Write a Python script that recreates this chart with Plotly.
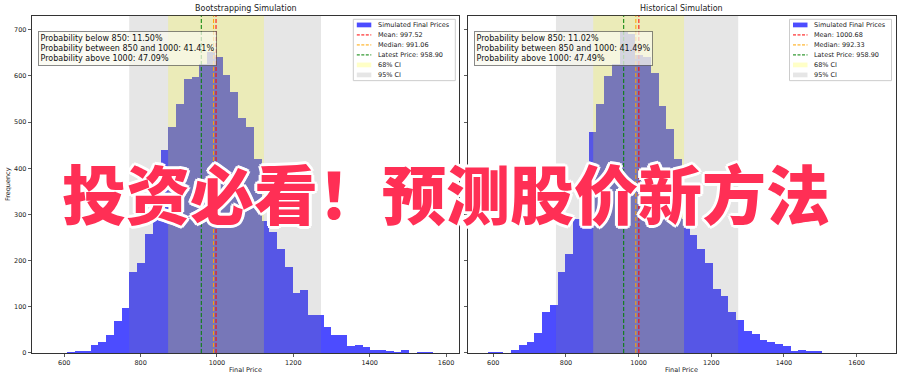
import numpy as np
import plotly.graph_objects as go

# ---------------- data ----------------
boot_bin_lo, boot_bin_hi = 567.0, 1585.0
boot_counts = [1, 0, 2, 4, 4, 17, 23, 38, 70, 97,
               175, 194, 257, 297, 439, 489, 539, 593, 598, 625,
               652, 640, 602, 565, 508, 489, 420, 285, 262, 226,
               187, 130, 136, 83, 83, 57, 39, 38, 16, 18,
               12, 7, 6, 5, 3, 6, 1, 2, 2, 1]

hist_bin_lo, hist_bin_hi = 584.6, 1653.5
hist_counts = [2, 3, 1, 6, 17, 24, 43, 88, 104, 176,
               214, 290, 380, 478, 539, 600, 625, 696, 690, 645,
               640, 607, 534, 486, 421, 290, 255, 226, 195, 139,
               124, 89, 71, 48, 41, 29, 24, 20, 16, 4,
               6, 5, 4, 1, 0, 0, 1, 0, 0, 1]

latest_price = 958.90
boot_mean, boot_median = 997.52, 991.06
hist_mean, hist_median = 1000.68, 992.33
boot_ci68 = [872.0, 1123.0]
boot_ci95 = [770.0, 1272.5]
hist_ci68 = [875.0, 1125.0]
hist_ci95 = [772.5, 1274.0]
boot_probs = [11.50, 41.41, 47.09]
hist_probs = [11.02, 41.49, 47.49]

panel_titles = ["Bootstrapping Simulation", "Historical Simulation"]
x_ticks = [600, 800, 1000, 1200, 1400, 1600]
y_ticks = [0, 100, 200, 300, 400, 500, 600, 700]
headline = "投资必看！预测股价新方法"

# ---------------- styling / layout ----------------
W, H = 900, 383
FONT = "DejaVu Sans"
BAR_COLOR = "rgba(0,0,255,0.7)"
CI68_COLOR = "rgba(255,255,0,0.2)"
CI95_COLOR = "rgba(128,128,128,0.2)"
MEAN_C, MED_C, LAT_C = "#ff0000", "#ffa500", "#008000"
DASH = "4px,2px"


def px(xp):
    return xp / W


def py(yp):
    return 1 - yp / H


panels = [
    dict(xa="x", ya="y", xd=[32.3, 459.3], xr=[516.2, 1634.8],
         lo=boot_bin_lo, hi=boot_bin_hi, counts=boot_counts,
         mean=boot_mean, median=boot_median, ci68=boot_ci68, ci95=boot_ci95,
         probs=boot_probs, title=panel_titles[0]),
    dict(xa="x2", ya="y2", xd=[468.3, 895.5], xr=[531.2, 1707.0],
         lo=hist_bin_lo, hi=hist_bin_hi, counts=hist_counts,
         mean=hist_mean, median=hist_median, ci68=hist_ci68, ci95=hist_ci95,
         probs=hist_probs, title=panel_titles[1]),
]
y_dom_px = [16.0, 356.7]
y_range = [0, 730]

fig = go.Figure()
shapes = []
annotations = []

for k, p in enumerate(panels):
    edges = np.linspace(p["lo"], p["hi"], len(p["counts"]) + 1)
    centers = (edges[:-1] + edges[1:]) / 2
    width = edges[1] - edges[0]
    fig.add_trace(go.Bar(
        x=centers, y=p["counts"], width=width, xaxis=p["xa"], yaxis=p["ya"],
        marker=dict(color=BAR_COLOR, line=dict(width=0)),
        showlegend=False, hoverinfo="x+y"))

    # confidence bands (drawn above bars like matplotlib axvspan)
    for (a, b), col in [(p["ci95"], CI95_COLOR), (p["ci68"], CI68_COLOR)]:
        shapes.append(dict(type="rect", xref=p["xa"], yref=p["ya"] + " domain",
                           x0=a, x1=b, y0=0, y1=1, fillcolor=col,
                           line=dict(width=0), layer="above"))
    # vertical reference lines
    for v, col in [(p["mean"], MEAN_C), (p["median"], MED_C), (latest_price, LAT_C)]:
        shapes.append(dict(type="line", xref=p["xa"], yref=p["ya"] + " domain",
                           x0=v, x1=v, y0=0, y1=1,
                           line=dict(color=col, width=1, dash=DASH), layer="above"))

    # title
    annotations.append(dict(text=p["title"], xref="paper", yref="paper",
                            x=px((p["xd"][0] + p["xd"][1]) / 2), y=py(8.5),
                            xanchor="center", yanchor="middle", showarrow=False,
                            font=dict(family=FONT, size=8, color="#222")))
    # x label
    annotations.append(dict(text="Final Price", xref="paper", yref="paper",
                            x=px((p["xd"][0] + p["xd"][1]) / 2), y=py(374),
                            xanchor="center", yanchor="middle", showarrow=False,
                            font=dict(family=FONT, size=6.5, color="#222")))
    # probability text box
    pr = p["probs"]
    txt = (f"Probability below 850: {pr[0]:.2f}%<br>"
           f"Probability between 850 and 1000: {pr[1]:.2f}%<br>"
           f"Probability above 1000: {pr[2]:.2f}%")
    annotations.append(dict(text=txt, xref="paper", yref="paper",
                            x=px(p["xd"][0] + 5.5), y=py(31), xanchor="left",
                            yanchor="top", align="left", showarrow=False,
                            bgcolor="rgba(250,250,238,0.72)",
                            bordercolor="rgba(60,60,60,0.6)", borderwidth=1,
                            borderpad=1.5,
                            font=dict(family=FONT, size=8, color="#111")))

    # legend (matplotlib-style compact box)
    leg_labels = ["Simulated Final Prices", f"Mean: {p['mean']:.2f}",
                  f"Median: {p['median']:.2f}", f"Latest Price: {latest_price:.2f}",
                  "68% CI", "95% CI"]
    leg_kind = ["patch", "line", "line", "line", "patch", "patch"]
    leg_cols = [BAR_COLOR, MEAN_C, MED_C, LAT_C, "rgba(255,255,0,0.22)",
                "rgba(128,128,128,0.2)"]
    bx1 = p["xd"][1] - 4
    bx0 = bx1 - 102
    by0, by1 = 19.5, 81.5
    shapes.append(dict(type="rect", xref="paper", yref="paper",
                       x0=px(bx0), x1=px(bx1), y0=py(by1), y1=py(by0),
                       fillcolor="rgba(255,255,255,0.8)",
                       line=dict(color="#cccccc", width=1), layer="above"))
    for j, (lab, kind, col) in enumerate(zip(leg_labels, leg_kind, leg_cols)):
        yc = 25.2 + j * 10.1
        hx0, hx1 = bx0 + 3.5, bx0 + 18
        if kind == "patch":
            shapes.append(dict(type="rect", xref="paper", yref="paper",
                               x0=px(hx0), x1=px(hx1), y0=py(yc + 2.4), y1=py(yc - 2.4),
                               fillcolor=col, line=dict(width=0), layer="above"))
        else:
            shapes.append(dict(type="line", xref="paper", yref="paper",
                               x0=px(hx0), x1=px(hx1), y0=py(yc), y1=py(yc),
                               line=dict(color=col, width=1, dash="3px,1.5px"),
                               layer="above"))
        annotations.append(dict(text=lab, xref="paper", yref="paper",
                                x=px(bx0 + 22.5), y=py(yc), xanchor="left",
                                yanchor="middle", showarrow=False,
                                font=dict(family=FONT, size=6.5, color="#222")))

# y label
annotations.append(dict(text="Frequency", xref="paper", yref="paper",
                        x=px(8), y=py(186), textangle=-90, xanchor="center",
                        yanchor="middle", showarrow=False,
                        font=dict(family=FONT, size=6.5, color="#222")))

# headline overlay
outline = ", ".join(f"white {dx}px {dy}px 0" for dx, dy in
                    [(3, 0), (-3, 0), (0, 3), (0, -3), (2, 2), (-2, -2), (2, -2), (-2, 2)])
annotations.append(dict(text=headline, xref="paper", yref="paper",
                        x=px(446), y=py(193), xanchor="center", yanchor="middle",
                        showarrow=False,
                        font=dict(family="Noto Sans CJK SC", size=64, weight=900,
                                  color="#ff2f55", shadow=outline)))

axis_common = dict(showline=True, linecolor="#333", linewidth=1, mirror=True,
                   ticks="outside", ticklen=3.5, tickwidth=0.8, tickcolor="#333",
                   showgrid=False, zeroline=False,
                   tickfont=dict(family=FONT, size=6.5, color="#222"))

fig.update_layout(
    width=W, height=H, margin=dict(l=0, r=0, t=0, b=0),
    paper_bgcolor="white", plot_bgcolor="white", bargap=0, showlegend=False,
    shapes=shapes, annotations=annotations,
    xaxis=dict(domain=[px(panels[0]["xd"][0]), px(panels[0]["xd"][1])],
               range=panels[0]["xr"], tickvals=x_ticks, anchor="y", **axis_common),
    yaxis=dict(domain=[py(y_dom_px[1]), py(y_dom_px[0])], range=y_range,
               tickvals=y_ticks, anchor="x", **axis_common),
    xaxis2=dict(domain=[px(panels[1]["xd"][0]), px(panels[1]["xd"][1])],
                range=panels[1]["xr"], tickvals=x_ticks, anchor="y2", **axis_common),
    yaxis2=dict(domain=[py(y_dom_px[1]), py(y_dom_px[0])], range=y_range,
                tickvals=y_ticks, anchor="x2", showticklabels=False, **axis_common),
)

fig.write_html("out.html",
               config={"displayModeBar": False, "staticPlot": True},
               post_script="document.body.style.margin='0';"
                           "document.body.style.overflow='hidden';")
